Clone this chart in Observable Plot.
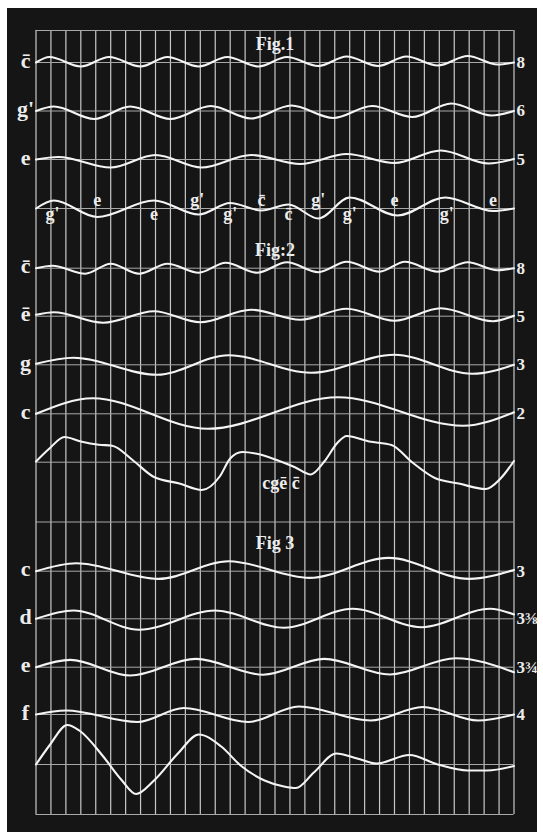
<!DOCTYPE html>
<html><head><meta charset="utf-8">
<script src="https://cdn.jsdelivr.net/npm/d3@7"></script>
<script src="https://cdn.jsdelivr.net/npm/@observablehq/plot@0.6"></script>
<style>
html,body{margin:0;padding:0;background:#fff;}
#chart{position:absolute;left:7px;top:8px;width:530px;}
#chart svg{display:block}
</style></head><body><div id="chart"></div>
<script>
// grid: 32 column intervals; y = depth below top frame line
const gridCols = d3.range(0, 33);
const hLines = [0, 32, 80.5, 129, 178, 237.7, 285.7, 334.3, 383.3, 431.7, 491.5, 540.7, 588.3, 636.7, 684, 734, 784];

// row baselines and labels
const rowBase     = [32, 80.5, 129, 237.7, 285.7, 334.3, 383.3, 540.7, 588.3, 636.7, 684];
const leftLabels  = ["c\u0304", "g'", "e", "c\u0304", "e\u0304", "g", "c", "c", "d", "e", "f"];
const rightLabels = ["8", "6", "5", "8", "5", "3", "2", "3", "3\u215C", "3\u00BE", "4"];

const titleText  = ["Fig.1", "Fig:2", "Fig 3", "cg\u0113 c\u0304"];
const titleU     = [16, 16, 16, 16.4];
const titleDepth = [14, 220, 513, 452.4];

// note labels along the Fig.1 compound wave
const comboText = ["g'", "e", "e", "g'", "g'", "c\u0304", "c\u0304", "g'", "g'", "e", "g'", "e"];
const comboU    = [1.1, 4.1, 7.9, 10.8, 13.0, 15.1, 16.9, 18.9, 21.0, 24.0, 27.5, 30.6];
const comboSide = ["below", "above", "below", "above", "below", "above", "below", "above", "below", "above", "below", "above"];

// wave key points: [column position, displacement above baseline]
const fig1C = [[0,0],[0.9,5.5],[3.0,-4],[4.9,5.5],[7.0,-4],[8.8,5.5],[10.9,-4],[12.8,5.5],[14.9,-4],[16.8,5.5],[18.9,-3.5],[20.8,6],[22.9,-3.5],[24.8,6],[26.9,-3],[28.9,6.5],[30.9,-2],[32,0]];
const fig1G = [[0,0],[1.2,4.5],[3.9,-8],[6.3,4.5],[9.0,-8],[11.7,5],[14.4,-7.5],[17.1,5.5],[19.9,-7],[22.5,5],[25.2,-6],[27.8,7.5],[30.5,-4.5],[32,0]];
const fig1E = [[0,0],[1.5,2.5],[5.0,-8],[8.0,4.5],[11.1,-8],[14.4,4.5],[17.7,-4.5],[20.8,5.5],[24.0,-3.5],[27.1,9],[30.3,-4],[32,0.5]];
const fig1Sum = [[0,0],[1.2,8],[4.1,-8.5],[7.9,8],[10.9,-6],[13.0,5.5],[15.1,-2],[16.9,4],[18.9,-10],[21.0,11],[24.2,-7],[27.4,11],[30.6,-2.5],[32,0]];

const fig2C8 = [[0,0],[1.1,2.5],[3.3,-5.5],[5.0,4.5],[6.9,-5.5],[8.8,4.5],[10.9,-4.5],[12.7,5.5],[14.8,-4.5],[16.8,6],[18.9,-4],[20.8,6.5],[23.0,-3.5],[24.7,6.5],[26.9,-3.5],[28.9,6],[30.9,-2],[32,0]];
const fig2E = [[0,1.5],[1.2,4],[4.5,-6.5],[7.9,5],[11.0,-6],[14.4,6.5],[17.7,-3.5],[20.8,7.5],[24.0,-4.5],[27.1,8],[30.6,-5],[32,0.5]];
const fig2G = [[0,1],[2.5,7],[8.1,-10],[12.9,9.5],[18.4,-8],[24.0,10],[29.2,-9],[32,0]];
const fig2C = [[0,0],[3.8,15.5],[11.5,-15],[20.2,16.5],[28.6,-12],[32,1.5]];
const fig2Sum = [[0,0.7],[0.9,13.7],[1.9,25.2],[3.0,20.7],[4.2,17.5],[5.1,16.5],[6.5,1.7],[7.9,-14.8],[9.6,-21.3],[11.1,-27.8],[12.3,-14.3],[13.0,3.7],[13.8,10.2],[14.7,8.7],[16.2,1.7],[17.3,-4.8],[18.4,-12.3],[19.3,0.7],[20.2,19.7],[20.8,26.2],[22.3,20.7],[23.8,17.2],[25.2,-0.3],[26.7,-15.8],[28.3,-21.3],[30.1,-26.8],[31.1,-16.3],[32,1.2]];

const fig3C = [[0,0],[2.7,8],[8.2,-7.7],[12.9,10],[18.3,-6.7],[23.6,13.3],[29.0,-7.7],[32,1.3]];
const fig3D = [[0,0],[2.5,8.3],[6.9,-11],[12.0,8.3],[16.6,-9],[21.2,10],[25.8,-8.4],[30.4,10],[32,4.3]];
const fig3E = [[0,0],[2.3,7.3],[6.3,-8.3],[10.7,8.3],[15.2,-7.5],[19.3,8.3],[23.7,-7.3],[28.1,9],[32,-5]];
const fig3F = [[0,0],[2.0,4],[6.8,-7.5],[9.9,6.5],[14.2,-7.5],[17.6,8],[22.4,-6],[25.9,7.5],[29.6,-6],[32,0]];
const fig3Sum = [[0,0],[0.9,19],[2.1,39.5],[2.9,34],[4.5,8],[5.7,-15],[6.7,-29.5],[7.9,-16],[9.5,11],[10.9,30],[12.4,18],[13.7,-1],[15.3,-16],[16.6,-22],[17.4,-23.5],[18.6,-8],[20.1,11],[21.5,6],[22.8,1],[25.0,9.5],[26.9,0],[28.9,-6],[30.2,-6],[32,-1.5]];

const waveNames = ["f1c","f1g","f1e","f1s","f2c8","f2e","f2g","f2c","f2s","f3c","f3d","f3e","f3f","f3s"];
const waveBase  = [32, 80.5, 129, 178, 237.7, 285.7, 334.3, 383.3, 431.7, 540.7, 588.3, 636.7, 684, 734];
const wavePts   = [fig1C, fig1G, fig1E, fig1Sum, fig2C8, fig2E, fig2G, fig2C, fig2Sum, fig3C, fig3D, fig3E, fig3F, fig3Sum];

const points = wavePts.flatMap((pts, i) => pts.map(([u, d]) => ({id: waveNames[i], u, y: waveBase[i] - d})));
const rows = rowBase.map((b, i) => ({base: b, left: leftLabels[i], right: rightLabels[i]}));
const titles = titleText.map((t, i) => ({t, u: titleU[i], y: titleDepth[i]}));
const combo = comboText.map((t, i) => ({t, u: comboU[i], y: comboSide[i] === "above" ? 170 : 183.4}));

const ink = "#ececec";
const font = "Liberation Serif";

const chart = Plot.plot({
  width: 530, height: 824,
  marginLeft: 28.5, marginRight: 23.5, marginTop: 22, marginBottom: 18,
  style: {background: "#151515", color: ink},
  x: {domain: [0, 32], axis: null},
  y: {domain: [0, 784], reverse: true, axis: null},
  marks: [
    Plot.ruleX(gridCols, {x: d => d, y1: 0, y2: 784, stroke: "#c8c8c8", strokeWidth: 1.2}),
    Plot.ruleY(hLines, {y: d => d, x1: 0, x2: 32, stroke: "#a8a8a8", strokeWidth: 1}),
    Plot.line(points, {x: "u", y: "y", z: "id", curve: "monotone-x", stroke: "#f4f4f4", strokeWidth: 2.1}),
    Plot.text(rows, {x: 0, y: "base", text: "left", dx: -10.5, dy: -2, fontSize: 22, fontWeight: "bold", fontFamily: font, fill: ink}),
    Plot.text(rows, {x: 32, y: "base", text: "right", dx: 2.5, textAnchor: "start", fontSize: 17, fontWeight: "bold", fontFamily: font, fill: ink}),
    Plot.text(titles, {x: "u", y: "y", text: "t", fontSize: 18, fontWeight: "bold", fontFamily: font, fill: ink}),
    Plot.text(combo, {x: "u", y: "y", text: "t", fontSize: 18, fontWeight: "bold", fontFamily: font, fill: ink})
  ]
});
document.getElementById("chart").append(chart);
</script></body></html>
